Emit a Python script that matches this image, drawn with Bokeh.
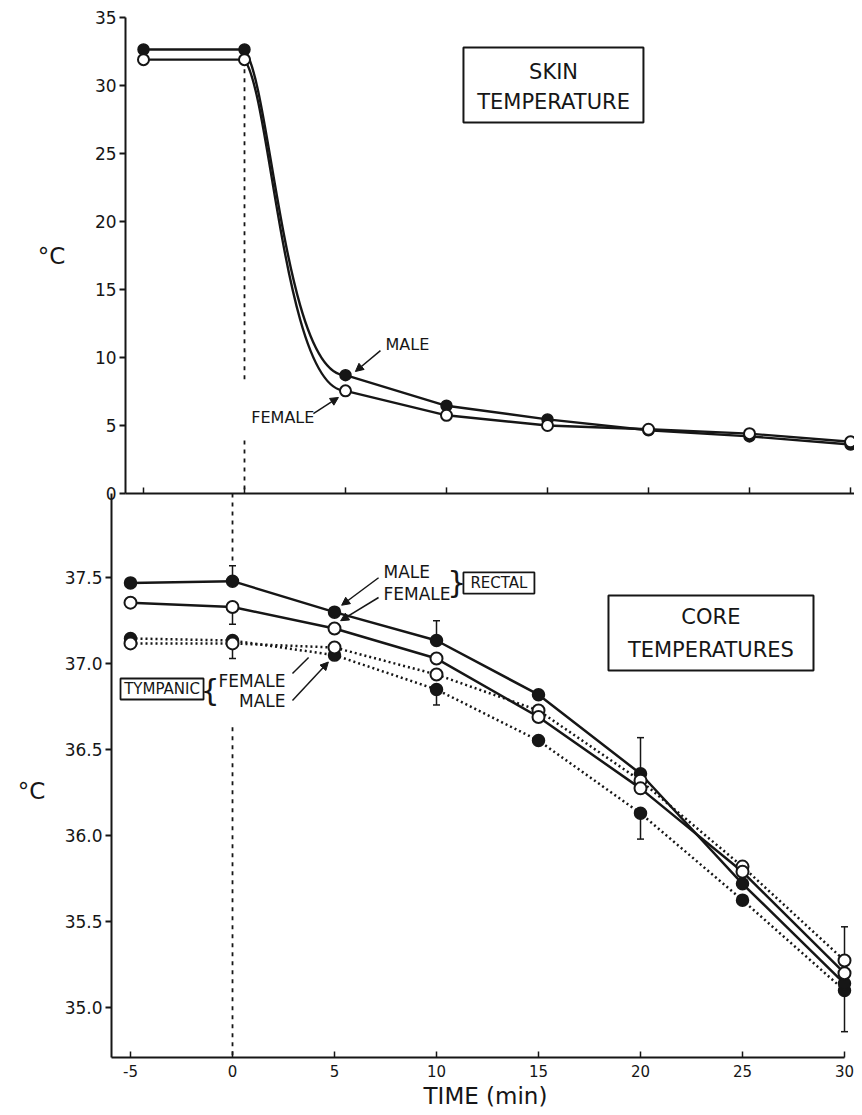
from bokeh.plotting import figure
from bokeh.models import (Range1d, FixedTicker, Label, Arrow, NormalHead, BoxAnnotation,
                          LinearAxis)
from bokeh.embed import file_html
from bokeh.resources import INLINE

# ---------------- data ----------------
time = [-5, 0, 5, 10, 15, 20, 25, 30]

skin_male = [32.65, 32.65, 8.7, 6.45, 5.45, 4.65, 4.2, 3.6]
skin_female = [31.9, 31.9, 7.55, 5.75, 5.0, 4.72, 4.4, 3.8]

rectal_male = [37.47, 37.48, 37.30, 37.135, 36.82, 36.36, 35.72, 35.14]
rectal_female = [37.355, 37.33, 37.205, 37.03, 36.69, 36.275, 35.79, 35.20]
tymp_male = [37.147, 37.135, 37.05, 36.85, 36.553, 36.13, 35.625, 35.10]
tymp_female = [37.118, 37.118, 37.094, 36.937, 36.728, 36.32, 35.82, 35.274]

err_time = [0, 0, 0, 10, 10, 20, 20, 30, 30]
err_from = [37.48, 37.33, 37.118, 37.135, 36.85, 36.36, 36.13, 35.274, 35.10]
err_to = [37.57, 37.23, 37.03, 37.25, 36.76, 36.57, 35.98, 35.47, 34.86]

immersion_start = 0

skin_ticks = [0, 5, 10, 15, 20, 25, 30, 35]
core_ticks = [35.0, 35.5, 36.0, 36.5, 37.0, 37.5]
time_ticks = [-5, 0, 5, 10, 15, 20, 25, 30]

FONT = "DejaVu Sans"
INK = "#161616"

# panel limits
CORE_BOTTOM, CORE_TOP = 34.71, 37.99
SKIN_BOTTOM, SKIN_TOP = 0, 35

# one frame covering the whole picture; both panels share it
core_x = Range1d(-11.373, 30.49)
core_y = Range1d(34.390, 40.857)
skin_x = Range1d(-12.079, 30.198)
skin_y = Range1d(-45.515, 36.25)
CORE_AXIS_X = -5.932   # where the core panel's y axis stands (core x units)
SKIN_AXIS_X = -5.245   # where the skin panel's y axis stands (core x units)
SKIN_BASE_X0 = -5.891  # start of the skin panel's base line (skin x units)

p = figure(frame_width=854, frame_height=1112, x_range=core_x, y_range=core_y,
           extra_x_ranges={"skin": skin_x}, extra_y_ranges={"skin": skin_y},
           output_backend="svg", toolbar_location=None,
           min_border_top=0, min_border_left=0, min_border_right=0, min_border_bottom=0)
p.grid.visible = False
p.outline_line_color = None
p.background_fill_color = "white"
p.border_fill_color = "white"

SK = dict(x_range_name="skin", y_range_name="skin")


def label(x, y, text, size, align="center", skin=False):
    kw = SK if skin else {}
    p.add_layout(Label(x=x, y=y, text=text, text_font=FONT, text_font_size=size,
                       text_color=INK, text_align=align, text_baseline="middle", **kw))


def arrow(xs, ys, xe, ye, head=True, skin=False):
    kw = SK if skin else {}
    end = NormalHead(size=8, fill_color=INK, line_color=INK, line_width=1) if head else None
    p.add_layout(Arrow(end=end, x_start=xs, y_start=ys, x_end=xe, y_end=ye,
                       line_color=INK, line_width=1.5, **kw))


def box(l, r, b, t, lw, skin=False):
    kw = SK if skin else {}
    p.add_layout(BoxAnnotation(left=l, right=r, bottom=b, top=t, fill_alpha=0,
                               line_color=INK, line_alpha=1, line_width=lw, **kw))


def style_y(ax):
    ax.major_label_text_font = FONT
    ax.major_label_text_font_size = "17px"
    ax.major_label_text_color = INK
    ax.major_label_standoff = 3
    ax.major_tick_out = 6
    ax.major_tick_in = 0
    ax.minor_tick_out = 0
    ax.minor_tick_in = 0
    ax.axis_line_width = 2
    ax.major_tick_line_width = 2
    ax.axis_line_color = INK
    ax.major_tick_line_color = INK


# ---------------- y axes ----------------
core_axis = p.yaxis[0]
core_axis.ticker = FixedTicker(ticks=core_ticks)
core_axis.major_label_overrides = {c: f"{c:.1f}" for c in core_ticks}
core_axis.bounds = (CORE_BOTTOM, CORE_TOP)
core_axis.fixed_location = CORE_AXIS_X
style_y(core_axis)

skin_axis = LinearAxis(y_range_name="skin", ticker=FixedTicker(ticks=skin_ticks),
                       bounds=(SKIN_BOTTOM, SKIN_TOP), fixed_location=SKIN_AXIS_X)
style_y(skin_axis)
p.add_layout(skin_axis, "left")

label(-8.873, 39.374, "°C", "23px")
label(-9.853, 36.262, "°C", "23px")

# ---------------- x axis ----------------
xa = p.xaxis[0]
xa.ticker = FixedTicker(ticks=time_ticks)
xa.major_label_overrides = {t: str(t) for t in time_ticks}
xa.bounds = (CORE_AXIS_X, time_ticks[-1])
xa.fixed_location = CORE_BOTTOM
xa.major_label_text_font = FONT
xa.major_label_text_font_size = "15px"
xa.major_label_text_color = INK
xa.major_label_standoff = 8
xa.major_tick_out = 0
xa.major_tick_in = 6
xa.minor_tick_out = 0
xa.minor_tick_in = 0
xa.axis_line_width = 2
xa.major_tick_line_width = 1.5
xa.axis_line_color = INK
xa.major_tick_line_color = INK

label(12.40, 34.484, "TIME (min)", "23px")

# ---------------- top panel: skin temperature ----------------
p.segment(x0=[SKIN_BASE_X0], y0=[SKIN_BOTTOM], x1=[skin_x.end], y1=[SKIN_BOTTOM],
          line_color=INK, line_width=2, **SK)
p.segment(x0=time_ticks, y0=[SKIN_BOTTOM] * len(time_ticks), x1=time_ticks,
          y1=[SKIN_BOTTOM + 0.45] * len(time_ticks), line_color=INK, line_width=1.5, **SK)

p.segment(x0=[immersion_start, immersion_start], y0=[31.2, 3.9],
          x1=[immersion_start, immersion_start], y1=[8.1, SKIN_BOTTOM],
          line_color=INK, line_width=1.8, line_dash="4 5", **SK)

for series in (skin_male, skin_female):
    p.line(time[:2], series[:2], line_color=INK, line_width=2.4, **SK)
    p.line(time[2:], series[2:], line_color=INK, line_width=2.4, **SK)
    p.bezier(x0=[time[1]], y0=[series[1]], x1=[time[2]], y1=[series[2]],
             cx0=[time[1] + 1.3], cy0=[series[1] - 2.5],
             cx1=[time[2] - 3.0], cy1=[series[2]],
             line_color=INK, line_width=2.4, **SK)

p.scatter(time, skin_male, size=11, fill_color=INK, line_color=INK, line_width=1.5, **SK)
p.scatter(time, skin_female, size=11, fill_color="white", line_color=INK, line_width=2, **SK)

box(10.84, 19.75, 27.28, 32.79, 2, skin=True)
label(15.30, 30.96, "SKIN", "21px", skin=True)
label(15.30, 28.75, "TEMPERATURE", "21px", skin=True)

label(6.98, 10.96, "MALE", "16px", "left", skin=True)
label(3.46, 5.59, "FEMALE", "16px", "right", skin=True)
arrow(6.73, 10.51, 5.49, 8.97, skin=True)
arrow(3.41, 5.88, 4.65, 7.06, skin=True)

# ---------------- bottom panel: core temperatures ----------------
p.segment(x0=[immersion_start, immersion_start], y0=[CORE_TOP, 36.63],
          x1=[immersion_start, immersion_start], y1=[37.58, CORE_BOTTOM],
          line_color=INK, line_width=1.8, line_dash="4 5")

p.segment(x0=err_time, y0=err_from, x1=err_time, y1=err_to, line_color=INK, line_width=1.5)
p.scatter(err_time, err_to, marker="dash", size=7, line_color=INK, line_width=1.5)

p.line(time, tymp_male, line_color=INK, line_width=2.5, line_dash="2 3")
p.line(time, tymp_female, line_color=INK, line_width=2.5, line_dash="2 3")
p.line(time, rectal_male, line_color=INK, line_width=2.5)
p.line(time, rectal_female, line_color=INK, line_width=2.5)

p.scatter(time, tymp_male, size=12, fill_color=INK, line_color=INK, line_width=1.5)
p.scatter(time, rectal_male, size=12, fill_color=INK, line_color=INK, line_width=1.5)
p.scatter(time, tymp_female, size=12, fill_color="white", line_color=INK, line_width=2)
p.scatter(time, rectal_female, size=12, fill_color="white", line_color=INK, line_width=2)

box(18.43, 28.48, 36.961, 37.397, 2)
label(23.45, 37.269, "CORE", "21px")
label(23.45, 37.077, "TEMPERATURES", "21px")

box(11.32, 14.80, 37.408, 37.531, 1.8)
label(13.06, 37.47, "RECTAL", "15px")
label(11.0, 37.47, "}", "30px")
label(7.40, 37.536, "MALE", "17px", "left")
label(7.40, 37.403, "FEMALE", "17px", "left")
arrow(7.16, 37.50, 5.35, 37.34)
arrow(7.16, 37.385, 5.30, 37.25)

box(-5.49, -1.42, 36.792, 36.914, 1.8)
label(-3.455, 36.853, "TYMPANIC", "15px")
label(-1.1, 36.844, "{", "30px")
label(2.60, 36.902, "FEMALE", "17px", "right")
label(2.60, 36.786, "MALE", "17px", "right")
arrow(2.94, 36.943, 3.73, 37.036, head=False)
arrow(2.94, 36.786, 4.70, 37.01)

open("out.html", "w").write(file_html(p, INLINE))
